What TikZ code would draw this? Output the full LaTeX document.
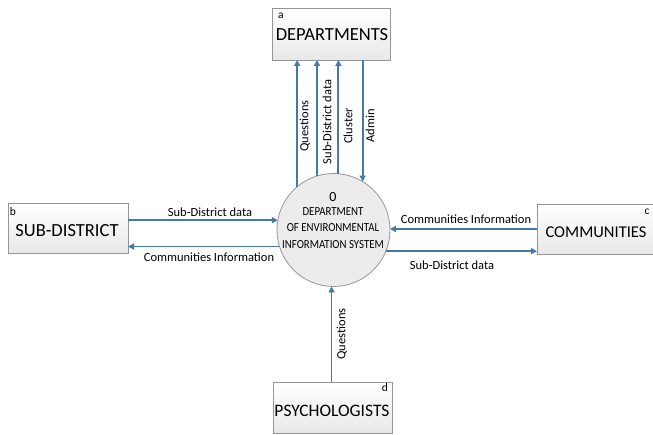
\documentclass[tikz,border=0pt]{standalone}
\usepackage{fontspec}
\setmainfont{Carlito}
\usetikzlibrary{arrows.meta}
\definecolor{flowblue}{RGB}{70,120,170}
\definecolor{boxline}{RGB}{150,150,150}
\begin{document}
\begin{tikzpicture}[x=1pt,y=-1pt,
  entity/.style={draw=boxline, line width=0.8pt, top color=white, bottom color=gray!18,
    inner sep=0pt, outer sep=0pt},
  enttxt/.style={font=\fontsize{#1}{19}\selectfont, inner sep=0pt},
  enttxt/.default=18.5,
  tag/.style={font=\fontsize{11.5}{11}\selectfont, inner sep=0pt},
  flow/.style={draw=flowblue, line width=1.9pt, -{Triangle[length=6pt,width=6pt]}},
  lbl/.style={font=\fontsize{12.5}{13}\selectfont, inner sep=0pt},
  proc/.style={circle, draw=boxline, line width=0.8pt, fill=gray!15, minimum size=113pt,
    inner sep=0pt, outer sep=0pt},
  proctxt/.style={font=\fontsize{12.3}{12}\selectfont, inner sep=0pt, xscale=0.88}]
\useasboundingbox (0,0) rectangle (653,435);

% entities
\node[entity, minimum width=118pt, minimum height=52pt] (dep) at (331,34) {};
\node[enttxt=18.5] (deptxt) at (332,35) {DEPARTMENTS};
\node[tag] (ta) at (281,16) {a};

\node[entity, minimum width=120pt, minimum height=50pt] (sub) at (68,228) {};
\node[enttxt=18.5] (subtxt) at (67,231) {SUB-DISTRICT};
\node[tag] (tb) at (13,212) {b};

\node[entity, minimum width=116pt, minimum height=50pt] (com) at (595,229) {};
\node[enttxt=16.5] (comtxt) at (596,232) {COMMUNITIES};
\node[tag] (tc) at (647,212) {c};

\node[entity, minimum width=119pt, minimum height=51pt] (psy) at (332.5,407.5) {};
\node[enttxt=17.5] (psytxt) at (332,411) {PSYCHOLOGISTS};
\node[tag] (td) at (385,388) {d};

% process
\node[proc] (circ) at (333.5,230) {};
\node[font=\fontsize{14}{14}\selectfont, inner sep=0pt] (pnum) at (333,197) {0};
\node[proctxt] (p1) at (333,212) {DEPARTMENT};
\node[proctxt] (p2) at (333,228) {OF ENVIRONMENTAL};
\node[proctxt] (p3) at (333,244.5) {INFORMATION SYSTEM};

% flows to/from departments
\draw[flow] (circ.130) -- (circ.130 |- dep.south);
\draw[flow] (circ.107) -- (circ.107 |- dep.south);
\draw[flow] (circ.85.4) -- (circ.85.4 |- dep.south);
\draw[flow] (circ.59.7 |- dep.south) -- (circ.59.7);
\node[lbl, rotate=90] (lq) at (305,126) {Questions};
\node[lbl, rotate=90] (ls) at (327,122) {Sub-District data};
\node[lbl, rotate=90] (lc) at (348,126) {Cluster};
\node[lbl, rotate=90] (la) at (370,126) {Admin};

% sub-district
\draw[flow] (sub.east |- circ.170.8) -- (circ.170.8);
\draw[flow] (circ.197.5) -- (circ.197.5 -| sub.east);
\node[lbl] (l1) at (210,212) {Sub-District data};
\node[lbl] (l2) at (209,257) {Communities Information};

% communities
\draw[flow] (com.west |- circ.1) -- (circ.1);
\draw[flow] (circ.-22.9) -- (circ.-22.9 -| com.west);
\node[lbl] (l3) at (466,219) {Communities Information};
\node[lbl] (l4) at (452,265) {Sub-District data};

% psychologists
\draw[flow] (psy.north -| circ.268.5) -- (circ.268.5);
\node[lbl, rotate=90] (lq2) at (342,334) {Questions};
\end{tikzpicture}
\end{document}
